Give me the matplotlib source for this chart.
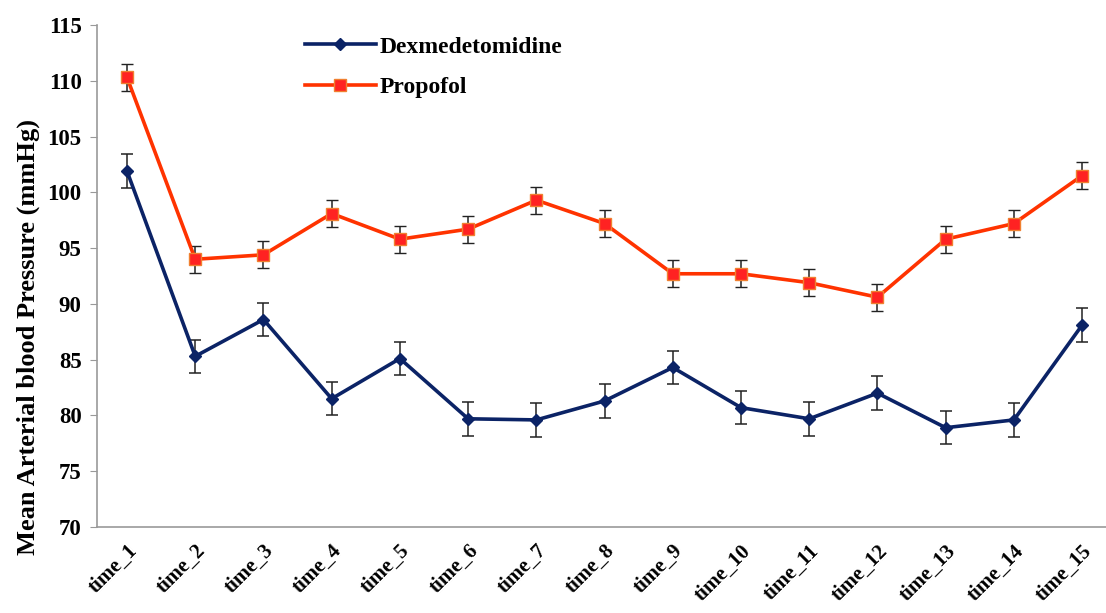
import numpy as np
import matplotlib
matplotlib.use('Agg')
import matplotlib.pyplot as plt
from matplotlib.lines import Line2D

plt.rcParams['font.family'] = ['Liberation Serif', 'DejaVu Serif']
plt.rcParams['font.weight'] = 'bold'

# ============================================================
# Data
# ============================================================
time_labels = [f"time_{i}" for i in range(1, 16)]

dex_mean = [101.9, 85.3, 88.6, 81.5, 85.1, 79.7, 79.6, 81.3, 84.3, 80.7,
            79.7, 82.0, 78.9, 79.6, 88.1]
dex_err = [1.5, 1.5, 1.5, 1.5, 1.5, 1.5, 1.5, 1.5, 1.5, 1.5,
           1.5, 1.5, 1.5, 1.5, 1.5]

prop_mean = [110.3, 94.0, 94.4, 98.1, 95.8, 96.7, 99.3, 97.2, 92.7, 92.7,
             91.9, 90.6, 95.8, 97.2, 101.5]
prop_err = [1.2, 1.2, 1.2, 1.2, 1.2, 1.2, 1.2, 1.2, 1.2, 1.2,
            1.2, 1.2, 1.2, 1.2, 1.2]

dex_color = '#0b2366'
prop_color = '#ff3300'

# ============================================================
# Figure
# ============================================================
fig = plt.figure(figsize=(11.06, 6.13), dpi=100)
ax = fig.add_axes([0.0877, 0.1403, 0.9123, 0.8189])

x = np.arange(len(time_labels))

ax.errorbar(x, dex_mean, yerr=dex_err, color=dex_color, lw=2.6,
            marker='D', ms=6, mfc=dex_color, mec=dex_color,
            ecolor='#222222', elinewidth=1.1, capsize=4, capthick=1.1,
            zorder=3)
ax.errorbar(x, prop_mean, yerr=prop_err, color=prop_color, lw=2.6,
            marker='s', ms=9, mfc='#ff2222', mec='#f08030', mew=1,
            ecolor='#222222', elinewidth=1.1, capsize=4, capthick=1.1,
            zorder=3)

ax.set_xlim(-0.44, 14.35)
ax.set_ylim(70, 115)
ax.set_yticks(np.arange(70, 116, 5))
ax.set_xticks(x)
ax.set_xticklabels(time_labels, rotation=45, ha='right', va='top',
                   rotation_mode='anchor', fontsize=15, fontweight='bold')
ax.tick_params(axis='x', length=0, pad=10)
ax.tick_params(axis='y', length=5, color='#999999', labelsize=16.5, pad=6)

for s in ['top', 'right']:
    ax.spines[s].set_visible(False)
for s in ['left', 'bottom']:
    ax.spines[s].set_color('#999999')
    ax.spines[s].set_linewidth(1.2)

ax.set_ylabel('Mean Arterial blood Pressure (mmHg)', fontsize=19,
              fontweight='bold', ha='center', va='center')
ax.yaxis.set_label_coords(-0.068, 0.378)

handles = [
    Line2D([], [], color=dex_color, lw=2.6, marker='D', ms=6,
           mfc=dex_color, mec=dex_color),
    Line2D([], [], color=prop_color, lw=2.6, marker='s', ms=9,
           mfc='#ff2222', mec='#f08030', mew=1),
]
leg = ax.legend(handles, ['Dexmedetomidine', 'Propofol'], loc='upper left',
                bbox_to_anchor=(0.185, 1.02), frameon=False,
                fontsize=17, handlelength=3.0, handletextpad=0.15,
                labelspacing=0.8)
for t in leg.get_texts():
    t.set_fontweight('bold')

plt.savefig('out.png', dpi=100)
